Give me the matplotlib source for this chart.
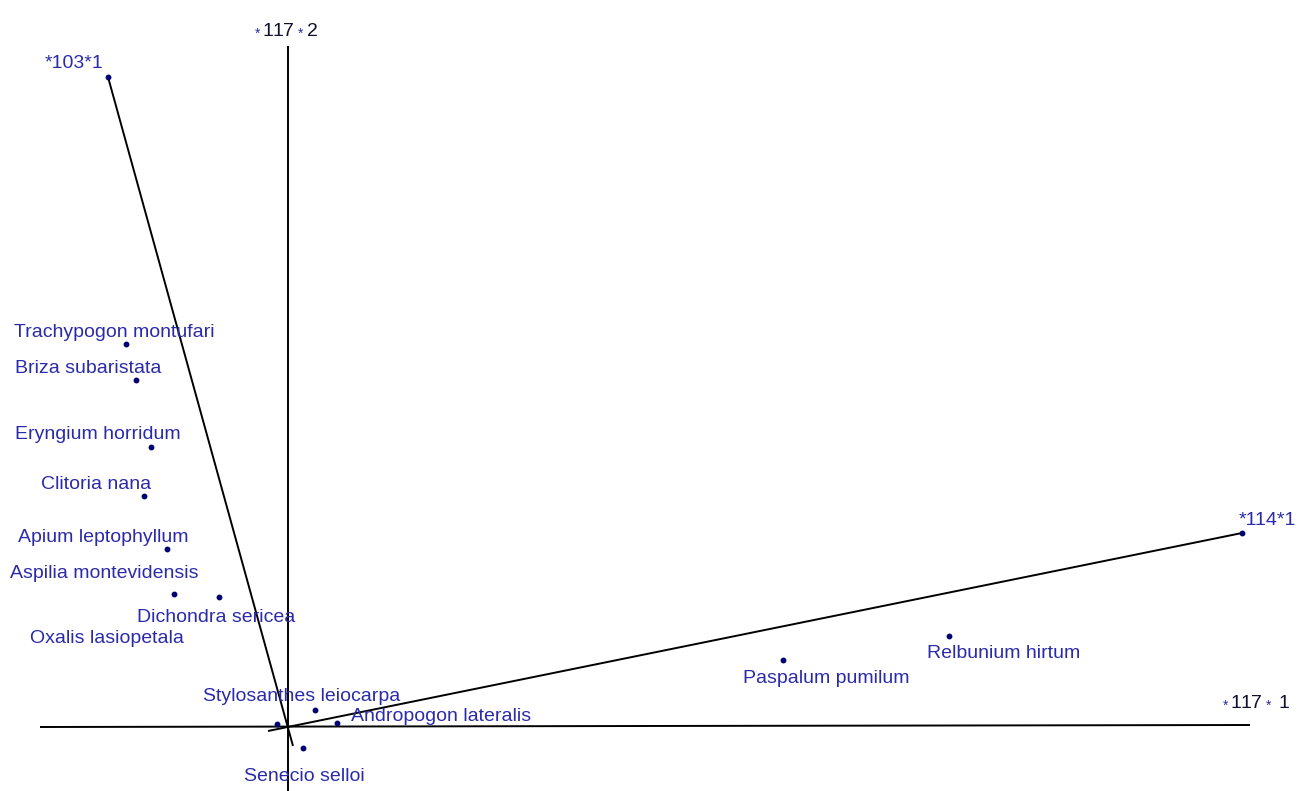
import matplotlib
matplotlib.use("Agg")
import matplotlib.pyplot as plt

# species scores on ordination axes 1 and 2
species = [
    "Trachypogon montufari",
    "Briza subaristata",
    "Eryngium horridum",
    "Clitoria nana",
    "Apium leptophyllum",
    "Aspilia montevidensis",
    "Dichondra sericea",
    "Oxalis lasiopetala",
    "Stylosanthes leiocarpa",
    "Andropogon lateralis",
    "Senecio selloi",
    "Paspalum pumilum",
    "Relbunium hirtum",
]
axis1 = [-1.62, -1.52, -1.37, -1.44, -1.21, -1.14, -0.69, -0.11, 0.27, 0.49, 0.15, 4.95, 6.61]
axis2 = [3.82, 3.46, 2.79, 2.30, 1.77, 1.32, 1.29, 0.02, 0.16, 0.03, -0.22, 0.66, 0.90]

# label offsets from each point, in pixels (x right, y up), to the text baseline start
label_dx = [-112, -121, -136, -103, -149, -164, -82, -247, -112, 14, -59, -40, -22]
label_dy = [7, 7, 8, 7, 7, 16, -25, 81, 9, 2, -33, -23, -22]

# environmental vectors: head and tail (tail runs slightly past the origin)
env_names = ["*103*1", "*114*1"]
env_head_x = [-1.80, 9.54]
env_head_y = [6.49, 1.93]
env_tail_x = [0.05, -0.20]
env_tail_y = [-0.20, -0.05]
env_label_dx = [-63, -3]
env_label_dy = [9, 8]

# ordination axes
h_axis_x = [-2.48, 9.62]
h_axis_y = [-0.01, 0.01]
v_axis_x = [0.0, 0.0]
v_axis_y = [6.80, -0.65]

TEXT_BLUE = "#2b2baa"
DOT_NAVY = "#000070"
DIGIT_DARK = "#101030"
PX = 72 / 100  # pixel -> point at dpi 100

plt.rcParams["font.family"] = ["Liberation Sans", "DejaVu Sans"]

fig = plt.figure(figsize=(13.13, 7.91), dpi=100)
ax = fig.add_axes([0, 0, 1, 1])
ax.set_xlim(-2.88, 10.25)
ax.set_ylim(-0.65, 7.26)
ax.axis("off")

line_kw = dict(color="black", linewidth=1.4, solid_capstyle="butt")
ax.plot(h_axis_x, h_axis_y, **line_kw)
ax.plot(v_axis_x, v_axis_y, **line_kw)

for hx, hy, tx, ty in zip(env_head_x, env_head_y, env_tail_x, env_tail_y):
    ax.plot([tx, hx], [ty, hy], **line_kw)

ax.plot(env_head_x, env_head_y, "o", color=DOT_NAVY, markersize=3.2, zorder=4)
for name, x, y, dx, dy in zip(env_names, env_head_x, env_head_y, env_label_dx, env_label_dy):
    ax.annotate(name, (x, y), xytext=(dx * PX, dy * PX), textcoords="offset points",
                ha="left", va="baseline", fontsize=14, color=TEXT_BLUE)

ax.plot(axis1, axis2, "o", color=DOT_NAVY, markersize=3.2, zorder=4)
for name, x, y, dx, dy in zip(species, axis1, axis2, label_dx, label_dy):
    ax.annotate(name, (x, y), xytext=(dx * PX, dy * PX), textcoords="offset points",
                ha="left", va="baseline", fontsize=14, color=TEXT_BLUE)


def axis_tag(anchor, pieces):
    # pieces: (text, dx_px, dy_px, size, colour)
    for text, dx, dy, size, colour in pieces:
        ax.annotate(text, anchor, xytext=(dx * PX, dy * PX), textcoords="offset points",
                    ha="left", va="baseline", fontsize=size, color=colour)


# "117" drawn digit by digit so the "11" pair is not kerned together;
# the small asterisks sit a little below cap height
axis_tag((v_axis_x[0], v_axis_y[0]), [
    ("*", -33, 8, 10, TEXT_BLUE),
    ("1", -26, 10, 14, DIGIT_DARK),
    ("1", -16, 10, 14, DIGIT_DARK),
    ("7", -5, 10, 14, DIGIT_DARK),
    ("*", 10, 8, 10, TEXT_BLUE),
    ("2", 19, 10, 14, DIGIT_DARK),
])
axis_tag((h_axis_x[1], h_axis_y[1]), [
    ("*", -27, 15, 10, TEXT_BLUE),
    ("1", -20, 17, 14, DIGIT_DARK),
    ("1", -10, 17, 14, DIGIT_DARK),
    ("7", 1, 17, 14, DIGIT_DARK),
    ("*", 16, 15, 10, TEXT_BLUE),
    ("1", 29, 17, 14, DIGIT_DARK),
])

fig.savefig("out.png", dpi=100)
